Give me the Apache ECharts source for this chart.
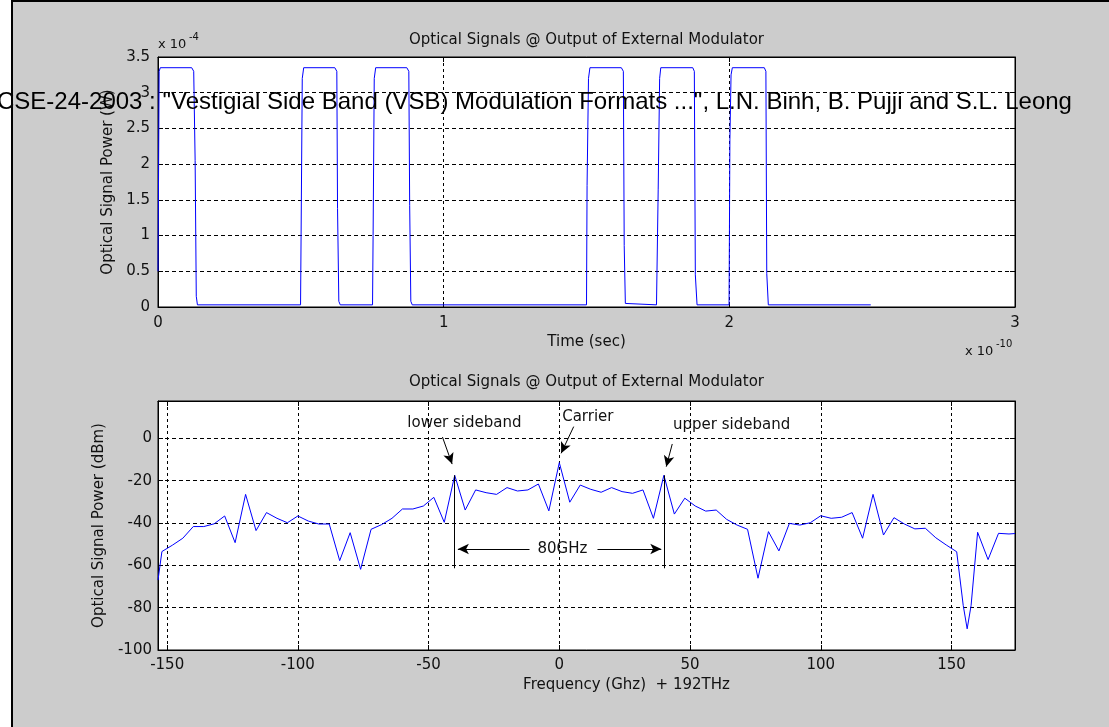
<!DOCTYPE html>
<html>
<head>
<meta charset="utf-8">
<script src="https://cdn.jsdelivr.net/npm/echarts@6/dist/echarts.min.js"></script>
<style>
  html, body { margin: 0; padding: 0; background: #fff; }
  #chart { width: 1109px; height: 727px; }
</style>
</head>
<body>
<div id="chart"></div>
<script>
// ---- Time domain: modulator output power (time in 1e-10 s, power in 1e-4 W) ----
const timeE10 = [
  0, 0.004, 0.008, 0.118, 0.125, 0.130, 0.134, 0.138,
  0.499, 0.501, 0.505, 0.510, 0.619, 0.626, 0.6285, 0.633, 0.638,
  0.751, 0.753, 0.757, 0.762, 0.871, 0.878, 0.881, 0.885, 0.890,
  1.500, 1.502, 1.507, 1.512, 1.622, 1.629, 1.632, 1.636, 1.641,
  1.745, 1.751, 1.756, 1.760, 1.872, 1.8775, 1.881, 1.887,
  1.999, 2.002, 2.006, 2.0105, 2.1225, 2.128, 2.131, 2.1365, 2.495
];
const powerE4 = [
  0.5, 3.3, 3.35, 3.35, 3.3, 2.05, 0.15, 0.03,
  0.03, 1.05, 3.2, 3.35, 3.35, 3.3, 1.38, 0.08, 0.03,
  0.03, 1.0, 3.2, 3.35, 3.35, 3.3, 1.42, 0.08, 0.03,
  0.03, 1.7, 3.2, 3.35, 3.35, 3.3, 0.86, 0.05, 0.03,
  0.03, 1.65, 3.2, 3.35, 3.35, 3.3, 0.45, 0.03,
  0.03, 2.35, 3.25, 3.35, 3.35, 3.3, 0.47, 0.03, 0.03
];

// ---- Spectrum: frequency offset from 192 THz (GHz) and power (dBm) ----
const freqGHz = [
  -153.5, -152, -148, -144, -140, -136, -132, -128, -124, -120,
  -116, -112, -108, -104, -100, -96, -92, -88, -84, -80,
  -76, -72, -68, -64, -60, -56, -52, -48, -44, -40,
  -36, -32, -28, -24, -20, -16, -12, -8, -4, 0,
  4, 8, 12, 16, 20, 24, 28, 32, 36, 40,
  44, 48, 52, 56, 60, 64, 68, 72, 76, 80,
  84, 88, 92, 96, 100, 104, 108, 112, 116, 120,
  124, 128, 132, 136, 140, 144, 148, 152, 154.5, 156,
  157.5, 160, 164, 168, 172, 174.3
];
const powerDbm = [
  -67, -53.5, -50.5, -47.2, -41.7, -41.7, -40.4, -36.7, -49.3, -26.5,
  -43.6, -35.1, -37.8, -39.9, -36.7, -39.1, -40.5, -40.5, -57.8, -44.6,
  -61.9, -43, -40.8, -37.8, -33.4, -33.4, -32, -27.9, -39.7, -17.5,
  -33.9, -24.4, -25.7, -26.5, -23.3, -24.9, -24.4, -21.6, -34.3, -11.5,
  -30.2, -22.1, -24.1, -25.5, -23.3, -25.2, -26, -24.4, -37.8, -17.5,
  -35.8, -28.3, -32, -34.4, -33.9, -38.3, -41, -43, -66.1, -44.1,
  -53.2, -40.2, -41, -39.9, -36.6, -37.8, -37.3, -35.1, -47.2, -26.5,
  -45.7, -37.5, -40.5, -42.8, -42.5, -47, -50.4, -53.6, -79, -90,
  -79, -44.4, -57.3, -44.9, -45.2, -45
];

// Axis ranges
const timeRange = [0, 3];
const wattRange = [0, 3.5];
const freqRange = [-153.5, 174.3];
const dbmRange = [-100, 17.6];

// Sidebands sit at +/- this offset from the carrier (GHz)
const sidebandOffset = 40;
const sidebandPeakDbm = -17.5;
const sidebandFootDbm = -61.4;
const spacingArrowDbm = -52.3;

// Annotation texts and where they sit (GHz, dBm)
const annotationTexts = ['lower sideband', 'Carrier', 'upper sideband', (2 * sidebandOffset) + 'GHz'];
const annotationAt = [[-36.3, 7.2], [10.9, 9.9], [65.9, 6.3], [1.2, spacingArrowDbm]];
// Pointer arrows: from -> to (GHz, dBm)
const pointerArrows = [
  [[-44.7, 0.6], [-41, -12.2]],
  [[5.5, 5.5], [0.7, -7.1]],
  [[43.2, -2.7], [40.9, -13.4]]
];

const titleText = 'Optical Signals @ Output of External Modulator';
const noteText = 'CSE-24-2003 : "Vestigial Side Band (VSB) Modulation Formats ...", L.N. Binh, B. Pujji and S.L. Leong';

const FONT = 'DejaVu Sans';
const INK = '#111';
const axisText = { fontFamily: FONT, fontSize: 15, color: INK };

const timeSeries = timeE10.map((t, i) => [t, powerE4[i]]);
const spectrumSeries = freqGHz.map((f, i) => [f, powerDbm[i]]);

function frameAxis(gridIndex, position, range, extra) {
  return Object.assign({
    gridIndex: gridIndex,
    type: 'value',
    position: position,
    min: range[0],
    max: range[1],
    axisLine: { show: true, onZero: false, lineStyle: { color: '#000', width: 1 } },
    axisTick: { show: true, inside: true, length: 5, lineStyle: { color: '#000' } },
    axisLabel: { show: false },
    splitLine: { show: false }
  }, extra || {});
}

const spacingArrows = [
  [[-11.4, spacingArrowDbm], [-sidebandOffset + 1.2, spacingArrowDbm]],
  [[14.6, spacingArrowDbm], [sidebandOffset - 1, spacingArrowDbm]]
];

const markLines = []
  .concat(pointerArrows.concat(spacingArrows).map(a => [
    { coord: a[0], symbol: 'none' },
    { coord: a[1], symbol: 'arrow' }
  ]))
  .concat([-sidebandOffset, sidebandOffset].map(f => [
    { coord: [f, sidebandPeakDbm], symbol: 'none' },
    { coord: [f, sidebandFootDbm], symbol: 'none' }
  ]));

const markPoints = annotationTexts.map((txt, i) => ({
  name: txt,
  coord: annotationAt[i]
}));

const chart = echarts.init(document.getElementById('chart'), null, { renderer: 'canvas' });

chart.setOption({
  animation: false,
  backgroundColor: '#cccccc',
  grid: [
    { left: 158, top: 57, width: 857, height: 250, show: true, backgroundColor: '#fff', borderColor: '#000', borderWidth: 1 },
    { left: 158, top: 401, width: 857, height: 249, show: true, backgroundColor: '#fff', borderColor: '#000', borderWidth: 1 }
  ],
  xAxis: [
    frameAxis(0, 'bottom', timeRange, {
      interval: 1,
      axisLabel: Object.assign({ show: true, margin: 9 }, axisText),
      splitLine: { show: true, lineStyle: { color: '#000', width: 1, type: [3, 3] } },
      name: 'Time (sec)',
      nameLocation: 'middle',
      nameGap: 28,
      nameTextStyle: axisText
    }),
    frameAxis(0, 'top', timeRange, { interval: 1 }),
    frameAxis(1, 'bottom', freqRange, {
      splitNumber: 7,
      axisLabel: Object.assign({ show: true, margin: 8, showMinLabel: false, showMaxLabel: false }, axisText),
      splitLine: { show: true, lineStyle: { color: '#000', width: 1, type: [3, 3] } },
      name: 'Frequency (Ghz)  + 192THz',
      nameLocation: 'middle',
      nameGap: 28,
      nameTextStyle: Object.assign({ padding: [0, 0, 0, 80] }, axisText)
    }),
    frameAxis(1, 'top', freqRange, { splitNumber: 7 })
  ],
  yAxis: [
    frameAxis(0, 'left', wattRange, {
      interval: 0.5,
      axisLabel: Object.assign({ show: true, margin: 8 }, axisText),
      splitLine: { show: true, lineStyle: { color: '#000', width: 1, type: [4, 3] } },
      name: 'Optical Signal Power (W)',
      nameLocation: 'middle',
      nameRotate: 90,
      nameGap: 38,
      nameTextStyle: axisText
    }),
    frameAxis(0, 'right', wattRange, { interval: 0.5 }),
    frameAxis(1, 'left', dbmRange, {
      interval: 20,
      axisLabel: Object.assign({ show: true, margin: 6, showMaxLabel: false }, axisText),
      splitLine: { show: true, lineStyle: { color: '#000', width: 1, type: [4, 3] } },
      name: 'Optical Signal Power (dBm)',
      nameLocation: 'middle',
      nameRotate: 90,
      nameGap: 46,
      nameTextStyle: axisText
    }),
    frameAxis(1, 'right', dbmRange, { interval: 20 })
  ],
  series: [
    {
      type: 'line',
      xAxisIndex: 0,
      yAxisIndex: 0,
      data: timeSeries,
      showSymbol: false,
      symbol: 'none',
      lineStyle: { color: '#0000ff', width: 1 },
      z: 3
    },
    {
      type: 'line',
      xAxisIndex: 2,
      yAxisIndex: 2,
      data: spectrumSeries,
      showSymbol: false,
      symbol: 'none',
      lineStyle: { color: '#0000ff', width: 1 },
      z: 3,
      markLine: {
        silent: true,
        symbolSize: [8, 11],
        label: { show: false },
        lineStyle: { color: '#000', width: 1, type: 'solid' },
        emphasis: { disabled: true },
        data: markLines
      },
      markPoint: {
        silent: true,
        symbol: 'circle',
        symbolSize: 1,
        itemStyle: { color: 'rgba(0,0,0,0)' },
        label: {
          show: true,
          position: 'inside',
          formatter: p => p.name,
          fontFamily: FONT,
          fontSize: 15,
          color: INK
        },
        data: markPoints
      }
    }
  ],
  graphic: [
    { type: 'rect', z: 0, shape: { x: 0, y: 0, width: 11, height: 727 }, style: { fill: '#fff' } },
    { type: 'rect', z: 0, shape: { x: 11, y: 0, width: 2, height: 727 }, style: { fill: '#000' } },
    { type: 'rect', z: 0, shape: { x: 11, y: 0, width: 1098, height: 2 }, style: { fill: '#000' } },
    { type: 'text', x: 586.5, y: 40, style: { text: titleText, align: 'center', verticalAlign: 'middle', fontFamily: FONT, fontSize: 15, fill: INK } },
    { type: 'text', x: 586.5, y: 382, style: { text: titleText, align: 'center', verticalAlign: 'middle', fontFamily: FONT, fontSize: 15, fill: INK } },
    { type: 'text', x: 158, y: 45, style: { text: 'x 10', align: 'left', verticalAlign: 'middle', fontFamily: FONT, fontSize: 13, fill: INK } },
    { type: 'text', x: 189, y: 37, style: { text: '-4', align: 'left', verticalAlign: 'middle', fontFamily: FONT, fontSize: 10, fill: INK } },
    { type: 'text', x: 965, y: 352, style: { text: 'x 10', align: 'left', verticalAlign: 'middle', fontFamily: FONT, fontSize: 13, fill: INK } },
    { type: 'text', x: 996, y: 344, style: { text: '-10', align: 'left', verticalAlign: 'middle', fontFamily: FONT, fontSize: 10, fill: INK } },
    { type: 'text', z: 100, x: -3, y: 102, style: { text: noteText, align: 'left', verticalAlign: 'middle', fontFamily: 'Liberation Sans, Arial, sans-serif', fontSize: 24, fill: '#000' } }
  ]
});
</script>
</body>
</html>
